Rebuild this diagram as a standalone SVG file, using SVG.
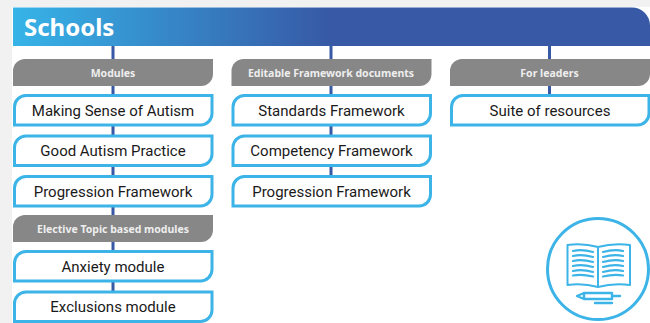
<svg xmlns="http://www.w3.org/2000/svg" width="650" height="323" viewBox="0 0 650 323">
<style>
text{font-family:"Noto Sans","Open Sans","Liberation Sans",sans-serif;text-anchor:middle}
.box{fill:#fff;stroke:#3cb4e7;stroke-width:3}
.lab{fill:#878787}
.lt{fill:#eeeeee;font-size:10.5px;font-weight:700}
.bt{fill:#1a1a1a;font-size:15px;font-family:Roboto,"Noto Sans",sans-serif}
.ln{stroke:#3759a6;stroke-width:3;fill:none}
.ic{stroke:#3cb4e7;fill:none;stroke-linecap:round;stroke-linejoin:round}
</style>
<defs>
<linearGradient id="g" gradientUnits="userSpaceOnUse" x1="13" y1="0" x2="330" y2="0"><stop offset="0" stop-color="#36b4e8"/><stop offset="1" stop-color="#3759a6"/></linearGradient>
<path id="b" d="M1.500 31V13A11.500 11.500 0 0 1 13 1.500H199V19.500A11.500 11.500 0 0 1 187.500 31Z" class="box"/>
<path id="l" d="M0 27V12A12 12 0 0 1 12 0H200V15A12 12 0 0 1 188 27Z" class="lab"/>
</defs>
<rect width="650" height="323" fill="#fff"/>
<path d="M0 0H650V7H0ZM0 0H12V323H0Z" fill="#f1f1f1"/>
<g id="connectors">
<path class="ln" d="M113 46V291M331 46V176M549.500 46V95"/>
</g>
<g id="header"><path d="M13 7.500H632A18 18 0 0 1 650 25.500V46H13Z" fill="url(#g)"/><text x="24" y="36" style="text-anchor:start;font-size:24px;font-weight:700;fill:#fff;font-family:'Noto Sans',sans-serif">Schools</text></g>
<g id="label-modules"><use href="#l" x="13" y="59"/><text class="lt" x="113" y="77">Modules</text></g>
<g id="node-making-sense"><use href="#b" x="13" y="94"/><text class="bt" x="113" y="116">Making Sense of Autism</text></g>
<g id="node-good-autism"><use href="#b" x="13" y="134.500"/><text class="bt" x="113" y="156">Good Autism Practice</text></g>
<g id="node-progression-1"><use href="#b" x="13" y="175"/><text class="bt" x="113" y="197">Progression Framework</text></g>
<g id="label-elective"><use href="#l" x="13" y="215"/><text class="lt" x="113" y="233">Elective Topic based modules</text></g>
<g id="node-anxiety"><use href="#b" x="13" y="250"/><text class="bt" x="113" y="272">Anxiety module</text></g>
<g id="node-exclusions"><use href="#b" x="13" y="290.500"/><text class="bt" x="113" y="312">Exclusions module</text></g>
<g id="label-editable"><use href="#l" x="231.500" y="59"/><text class="lt" x="331" y="77">Editable Framework documents</text></g>
<g id="node-standards"><use href="#b" x="231.500" y="94"/><text class="bt" x="331.500" y="116">Standards Framework</text></g>
<g id="node-competency"><use href="#b" x="231.500" y="134.500"/><text class="bt" x="331.500" y="156">Competency Framework</text></g>
<g id="node-progression-2"><use href="#b" x="231.500" y="175"/><text class="bt" x="331.500" y="197">Progression Framework</text></g>
<g id="label-leaders"><use href="#l" x="450" y="59"/><text class="lt" x="549.500" y="77">For leaders</text></g>
<g id="node-suite"><use href="#b" x="450" y="94"/><text class="bt" x="550" y="116">Suite of resources</text></g>
<g id="book-icon">
<circle cx="598" cy="269" r="50.500" fill="#fff" stroke="#3cb4e7" stroke-width="3"/>
<path class="ic" stroke-width="2" d="M598 247Q583 243 567.500 245V285Q583 283 598 287Q613 283 630 285V245Q613 243 598 247V287"/>
<path class="ic" stroke-width="2.200" d="M573 251Q582 249 593 252M573 256Q582 254 593 257M573 261Q582 259 593 262M573 266Q582 264 593 267M573 271Q582 269 593 272M573 275.500Q582 274 593 276.500M603 252Q614 249 623 251M603 257Q614 254 623 256M603 262Q614 259 623 261M603 267Q614 264 623 266M603 272Q614 269 623 271M603 276.500Q614 274 623 275.500"/>
<path class="ic" stroke-width="2.400" d="M584 293H612V299H584L577 296ZM584 293V299M612 296H620M595 303H612"/>
</g>
</svg>
